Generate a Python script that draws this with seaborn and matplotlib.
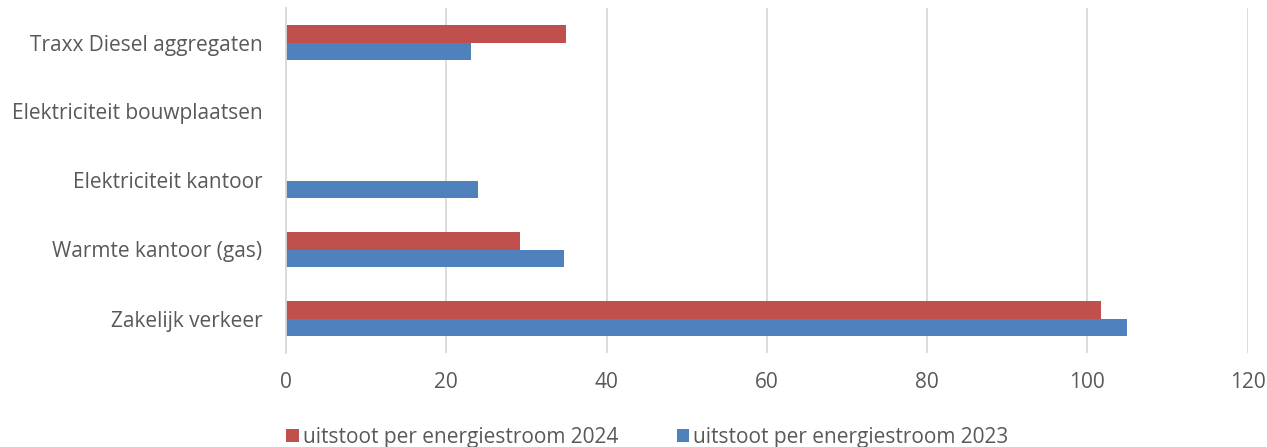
import matplotlib
matplotlib.use("Agg")
import matplotlib.pyplot as plt
import seaborn as sns
import pandas as pd

categories = ["Traxx Diesel aggregaten", "Elektriciteit bouwplaatsen",
              "Elektriciteit kantoor", "Warmte kantoor (gas)", "Zakelijk verkeer"]
series_names = ["uitstoot per energiestroom 2024", "uitstoot per energiestroom 2023"]
values_2024 = [35.0, 0.0, 0.0, 29.2, 101.75]
values_2023 = [23.1, 0.0, 24.0, 34.75, 104.95]
x_ticks = [0, 20, 40, 60, 80, 100, 120]

df = pd.DataFrame({
    "categorie": categories * 2,
    "serie": [series_names[0]] * len(categories) + [series_names[1]] * len(categories),
    "waarde": values_2024 + values_2023,
})

sns.set_theme(style="white")
plt.rcParams["font.family"] = ["Open Sans", "DejaVu Sans"]
text_color = "#595959"
fs = 15

fig = plt.figure(figsize=(12.67, 4.47), dpi=100)
ax = fig.add_axes([286 / 1267, 1 - 353 / 447, (1247.7 - 286) / 1267, 345 / 447])

sns.barplot(data=df, y="categorie", x="waarde", hue="serie", order=categories,
            hue_order=series_names, palette=["#C0504D", "#4F81BD"], orient="h",
            width=0.5, linewidth=0, saturation=1, ax=ax, legend=True)

ax.set_xlim(0, 120)
ax.set_xticks(x_ticks)
ax.set_xticklabels([str(t) for t in x_ticks])
ax.set_xlabel("")
ax.set_ylabel("")
ax.xaxis.grid(True, color="#D9D9D9", linewidth=1.3)
ax.set_axisbelow(True)
for s in ["top", "right", "bottom"]:
    ax.spines[s].set_visible(False)
ax.spines["left"].set_color("#D9D9D9")
ax.spines["left"].set_linewidth(1.3)
ax.tick_params(axis="x", length=0, pad=14, labelsize=fs, labelcolor=text_color)
ax.tick_params(axis="y", length=0, pad=17, labelsize=fs, labelcolor=text_color)

handles, labels = ax.get_legend_handles_labels()
ax.legend_.remove()
fig.legend(handles, labels, loc="center", bbox_to_anchor=(0.5 + 14 / 1267, 1 - 437 / 447),
           ncol=2, frameon=False, fontsize=fs, labelcolor=text_color,
           handlelength=0.6, handleheight=0.6, handletextpad=0.2, columnspacing=2.8,
           borderaxespad=0, borderpad=0)

fig.savefig("out.png", dpi=100)
